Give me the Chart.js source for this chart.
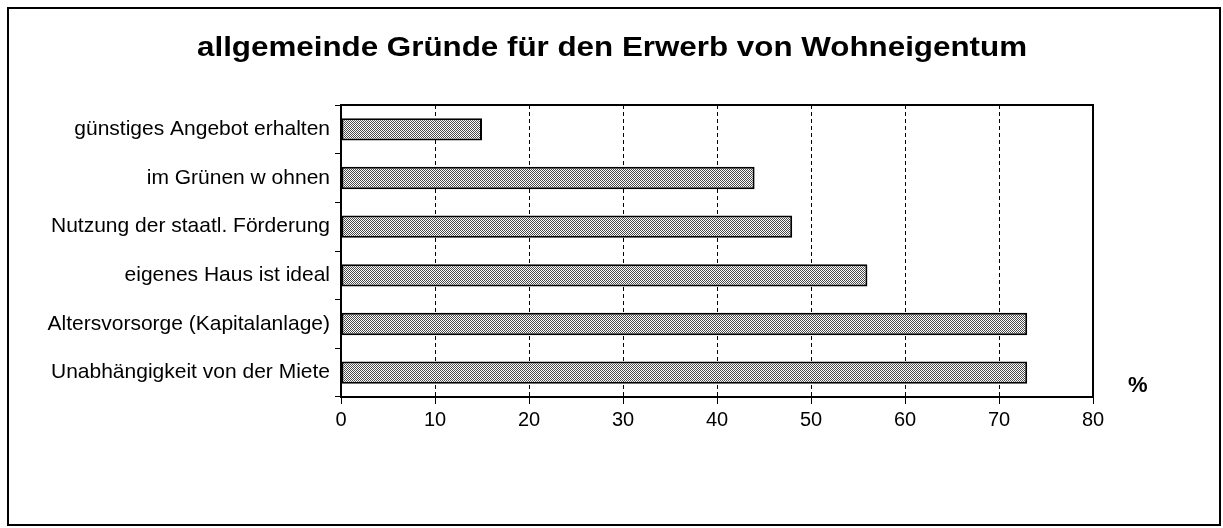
<!DOCTYPE html>
<html>
<head>
<meta charset="utf-8">
<script src="https://cdn.jsdelivr.net/npm/chart.js@4"></script>
<style>
  html, body { margin: 0; padding: 0; background: #fff; }
  #wrap { width: 1223px; height: 528px; }
</style>
</head>
<body>
<div id="wrap"><canvas id="chart" width="1223" height="528"></canvas></div>
<script>
// Data for the graph
const categories = [
  'günstiges Angebot erhalten',
  'im Grünen w ohnen',
  'Nutzung der staatl. Förderung',
  'eigenes Haus ist ideal',
  'Altersvorsorge (Kapitalanlage)',
  'Unabhängigkeit von der Miete'
];
const values = [15, 44, 48, 56, 73, 73];
const xTicks = [0, 10, 20, 30, 40, 50, 60, 70, 80];
const titleText = 'allgemeinde Gründe für den Erwerb von Wohneigentum';

const FONT = '"Liberation Sans", Arial, sans-serif';

// checkered fill like the old print
function makePattern() {
  const c = document.createElement('canvas');
  c.width = 2; c.height = 2;
  const p = c.getContext('2d');
  p.fillStyle = '#fff';
  p.fillRect(0, 0, 2, 2);
  p.fillStyle = '#4a4a4a';
  p.fillRect(0, 0, 1, 1);
  p.fillRect(1, 1, 1, 1);
  return p.createPattern(c, 'repeat');
}

const ctx = document.getElementById('chart').getContext('2d');

// frame, title, plot border and the % sign
const extras = {
  id: 'extras',
  afterDraw(chart) {
    const g = chart.ctx;
    const a = chart.chartArea;
    g.save();
    g.strokeStyle = '#000';
    g.lineWidth = 2;
    g.strokeRect(a.left, a.top, a.right - a.left, a.bottom - a.top);
    g.strokeRect(8, 8, 1212, 517);
    g.fillStyle = '#000';

    // title, the scan is a bit wide so stretch it sideways
    g.font = 'bold 27px ' + FONT;
    const w = g.measureText(titleText).width;
    const sx = 830 / w;
    g.save();
    g.translate(612, 56);
    g.scale(sx, 1);
    g.textAlign = 'center';
    g.textBaseline = 'alphabetic';
    g.fillText(titleText, 0, 0);
    g.restore();

    g.font = 'bold 22px ' + FONT;
    g.textAlign = 'left';
    g.textBaseline = 'middle';
    g.fillText('%', 1128, 386);
    g.restore();
  }
};

const chart = new Chart(ctx, {
  type: 'bar',
  data: {
    labels: categories,
    datasets: [{
      data: values,
      backgroundColor: makePattern(),
      borderColor: '#000',
      borderWidth: 2,
      borderSkipped: false,
      barPercentage: 0.46,
      categoryPercentage: 1
    }]
  },
  options: {
    indexAxis: 'y',
    responsive: false,
    animation: false,
    layout: { padding: { top: 105, right: 130, bottom: 92, left: 10 } },
    scales: {
      x: {
        min: 0,
        max: 80,
        afterBuildTicks(axis) { axis.ticks = xTicks.map(v => ({ value: v })); },
        grid: {
          color: '#000',
          lineWidth: 1,
          tickLength: 7,
          tickColor: '#000',
          tickBorderDash: [],
          drawTicks: true
        },
        border: { display: true, color: '#000', width: 2, dash: [4, 3] },
        ticks: {
          color: '#000',
          padding: 4,
          font: { family: FONT, size: 20 }
        }
      },
      y: {
        afterFit(axis) { axis.width = 331; },
        grid: {
          offset: true,
          drawOnChartArea: false,
          tickLength: 6,
          tickColor: '#000'
        },
        border: { display: true, color: '#000', width: 2 },
        ticks: {
          color: '#000',
          padding: 5,
          font: { family: FONT, size: 21 }
        }
      }
    },
    plugins: {
      legend: { display: false },
      tooltip: { enabled: false },
      title: { display: false }
    }
  },
  plugins: [extras]
});
</script>
</body>
</html>
